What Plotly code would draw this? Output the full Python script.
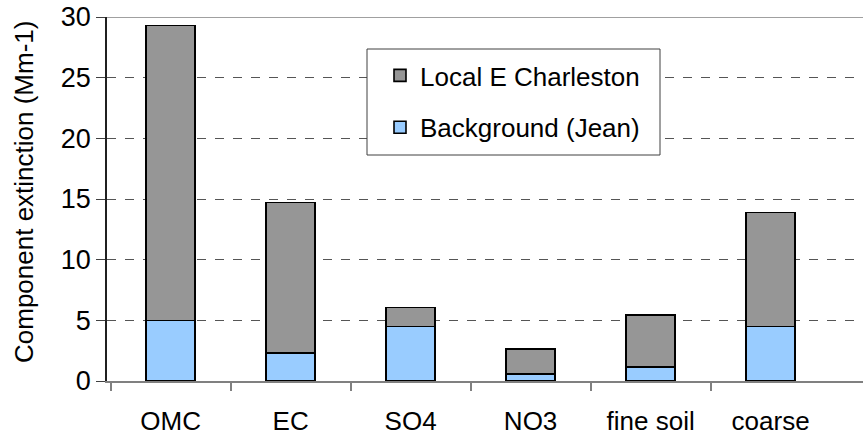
import plotly.graph_objects as go

categories = ["OMC", "EC", "SO4", "NO3", "fine soil", "coarse"]
background = [5.0, 2.3, 4.5, 0.6, 1.15, 4.5]
total = [29.3, 14.7, 6.05, 2.65, 5.45, 13.9]
local = [round(t - b, 2) for t, b in zip(total, background)]
y_ticks = [0, 5, 10, 15, 20, 25, 30]

FONT = "Liberation Sans, Arial, sans-serif"

fig = go.Figure()
fig.add_trace(go.Bar(
    x=categories, y=background, name="Background (Jean)",
    marker=dict(color="#99CCFF", line=dict(color="#000000", width=1.6)),
    width=0.41, legendgroup="b", legendrank=2,
))
fig.add_trace(go.Bar(
    x=categories, y=local, name="Local E Charleston",
    marker=dict(color="#969696", line=dict(color="#000000", width=1.6)),
    width=0.41, legendgroup="a", legendrank=1,
))

L, T, W, H = 107, 17, 756, 364
XR = [-0.53, 5.77]

def px_x(p):
    return (p - L) / W

def px_y(p):
    return (T + H - p) / H

# category boundaries between groups (tick marks)
boundaries = [i - 0.5 for i in range(len(categories))]

fig.update_layout(
    barmode="stack",
    width=863, height=436,
    margin=dict(l=L, r=863 - L - W, t=T, b=436 - T - H, pad=0, autoexpand=False),
    plot_bgcolor="white", paper_bgcolor="white",
    font=dict(family=FONT, size=26, color="#000000"),
    showlegend=True,
    legend=dict(
        x=px_x(380), y=px_y(52), xanchor="left", yanchor="top",
        traceorder="grouped", tracegroupgap=15,
        bgcolor="rgba(0,0,0,0)", borderwidth=0,
        font=dict(family=FONT, size=26),
    ),
    xaxis=dict(
        type="category", range=XR, automargin=False,
        showline=True, linecolor="#808080", linewidth=1.5,
        ticks="", ticklabelstandoff=16,
        tickfont=dict(size=26), showgrid=False, zeroline=False,
    ),
    xaxis2=dict(
        overlaying="x", side="bottom", range=XR, automargin=False,
        tickvals=boundaries, showticklabels=False,
        ticks="outside", ticklen=9, tickcolor="#808080", tickwidth=1.5,
        showline=False, showgrid=False, zeroline=False,
    ),
    yaxis=dict(
        range=[0, 30], tickvals=y_ticks, automargin=False,
        showline=True, linecolor="#202020", linewidth=1.5,
        ticks="outside", ticklen=9, tickcolor="#404040",
        tickfont=dict(size=27), ticksuffix="\u2002",
        showgrid=True, gridcolor="#555555", griddash="dash", gridwidth=1,
        zeroline=False,
    ),
    shapes=[
        dict(type="line", xref="paper", yref="y", x0=px_x(98), x1=1, y0=30, y1=30,
             line=dict(color="#808080", width=1.5), layer="below"),
        dict(type="rect", xref="paper", yref="paper",
             x0=px_x(367), x1=px_x(660), y0=px_y(155), y1=px_y(49),
             line=dict(color="#404040", width=1), fillcolor="white", layer="above"),
    ],
    annotations=[
        dict(text="Component extinction (Mm-1)", textangle=-90,
             xref="paper", yref="paper", x=px_x(24), y=px_y(192),
             xanchor="center", yanchor="middle", showarrow=False,
             font=dict(family=FONT, size=26)),
    ],
)
# invisible helper trace so the boundary-tick axis is drawn
fig.add_trace(go.Scatter(x=[XR[0]], y=[0], xaxis="x2", mode="markers",
                         marker=dict(opacity=0), showlegend=False, hoverinfo="skip"))

fig.write_html("out.html", config={"displayModeBar": False},
               post_script="document.body.style.margin='0';document.body.style.overflow='hidden';")
